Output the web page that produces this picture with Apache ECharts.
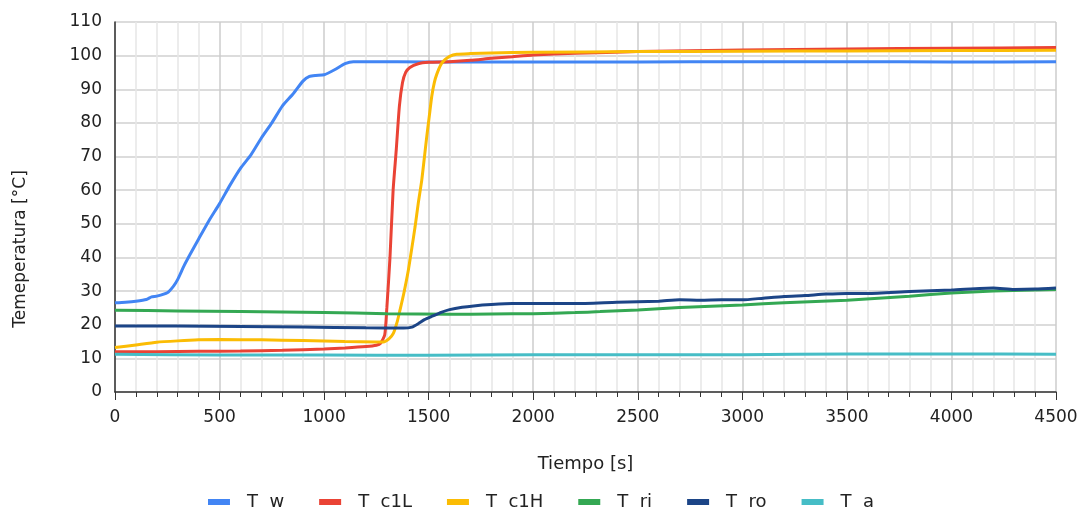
<!DOCTYPE html>
<html>
<head>
<meta charset="utf-8">
<script src="https://cdn.jsdelivr.net/npm/echarts@6/dist/echarts.min.js"></script>
<style>
  html, body { margin: 0; padding: 0; background: #fff; }
  #chart { width: 1082px; height: 508px; }
</style>
</head>
<body>
<div id="chart"></div>
<script>
  // series names (subscripts lost in the original export)
  const seriesNames = ['T  w', 'T  c1L', 'T  c1H', 'T  ri', 'T  ro', 'T  a'];
  const seriesColors = ['#4285F4', '#EA4335', '#FBBC04', '#34A853', '#1C4587', '#46BDC6'];

  // T w
  const twTime = [0, 50, 100, 150, 175, 200, 250, 280, 300, 330, 360, 400, 450, 500, 550, 600, 650, 700, 750, 800, 850, 900, 930, 960, 1000, 1050, 1100, 1140, 1200, 1500, 2000, 2500, 3000, 3500, 4000, 4500];
  const twTemp = [26.5, 26.7, 27, 27.5, 28.3, 28.5, 29.5, 31.5, 33.5, 37.5, 41, 45.5, 51, 56, 61.5, 66.5, 70.5, 75.5, 80, 85, 88.5, 92.5, 93.8, 94.1, 94.3, 95.8, 97.6, 98.2, 98.2, 98.1, 98.1, 98.1, 98.2, 98.2, 98.1, 98.2];

  // T c1L
  const tc1LTime = [0, 200, 400, 600, 800, 1000, 1100, 1200, 1250, 1270, 1290, 1300, 1315, 1330, 1345, 1360, 1375, 1390, 1410, 1450, 1500, 1600, 1700, 1800, 1900, 2000, 2200, 2500, 3000, 3500, 4000, 4500];
  const tc1LTemp = [12, 12, 12.1, 12.2, 12.4, 12.8, 13.1, 13.5, 13.9, 14.5, 17, 25, 40, 60, 72, 85, 92, 95, 96.5, 97.6, 98, 98.2, 98.6, 99.2, 99.7, 100.2, 100.7, 101.2, 101.7, 102, 102.2, 102.4];

  // T c1H
  const tc1HTime = [0, 100, 200, 300, 400, 500, 700, 900, 1100, 1250, 1283, 1310, 1331, 1350, 1363, 1380, 1403, 1420, 1435, 1450, 1467, 1480, 1491, 1503, 1515, 1527, 1539, 1560, 1578, 1600, 1634, 1700, 1800, 2000, 2500, 3000, 3500, 4000, 4500];
  const tc1HTemp = [13.2, 14, 14.8, 15.2, 15.5, 15.6, 15.5, 15.3, 15, 14.9, 14.9, 15.8, 17.4, 21, 24.4, 29, 36.3, 43, 49.1, 56, 63, 70, 76, 82, 88, 92, 94.5, 97.5, 98.8, 99.8, 100.4, 100.6, 100.8, 101, 101.2, 101.3, 101.4, 101.5, 101.6];

  // T ri
  const triTime = [0, 300, 600, 1000, 1300, 1600, 1800, 2000, 2200, 2320, 2500, 2700, 3000, 3200, 3500, 3800, 4000, 4200, 4500];
  const triTemp = [24.3, 24.1, 23.9, 23.6, 23.3, 23.1, 23.2, 23.3, 23.6, 23.9, 24.4, 25.1, 25.9, 26.5, 27.3, 28.5, 29.4, 30, 30.5];

  // T ro
  const troTime = [0, 300, 600, 900, 1200, 1380, 1420, 1450, 1480, 1520, 1560, 1600, 1660, 1715, 1800, 1900, 2000, 2200, 2400, 2600, 2700, 2800, 2900, 3000, 3100, 3200, 3300, 3400, 3500, 3600, 3800, 4000, 4200, 4300, 4400, 4500];
  const troTemp = [19.6, 19.6, 19.5, 19.3, 19.1, 19.0, 19.3, 20.3, 21.5, 22.6, 23.7, 24.5, 25.2, 25.6, 26, 26.3, 26.3, 26.3, 26.7, 27, 27.4, 27.3, 27.4, 27.4, 27.9, 28.4, 28.7, 29.1, 29.3, 29.3, 29.9, 30.3, 30.9, 30.5, 30.6, 30.9];

  // T a
  const taTime = [0, 500, 1000, 1500, 2000, 2500, 3000, 3500, 4000, 4500];
  const taTemp = [11.2, 11, 11, 10.9, 11.1, 11.1, 11.1, 11.3, 11.3, 11.2];

  const allTimes = [twTime, tc1LTime, tc1HTime, triTime, troTime, taTime];
  const allTemps = [twTemp, tc1LTemp, tc1HTemp, triTemp, troTemp, taTemp];

  const chart = echarts.init(document.getElementById('chart'));

  const series = seriesNames.map(function (name, i) {
    return {
      name: name,
      type: 'line',
      data: allTimes[i].map(function (t, j) { return [t, allTemps[i][j]]; }),
      showSymbol: false,
      smooth: 0.2,
      lineStyle: { width: 3, color: seriesColors[i] },
      itemStyle: { color: seriesColors[i] },
    };
  });

  const font = 'DejaVu Sans, sans-serif';

  chart.setOption({
    animation: false,
    textStyle: { fontFamily: font },
    grid: { left: 115, right: 26, top: 22, bottom: 116 },
    graphic: [
      {
        // y axis title, centred on the whole chart height like the original
        type: 'text',
        x: 21,
        y: 249,
        rotation: Math.PI / 2,
        style: {
          text: 'Temeperatura [°C]',
          font: '17px ' + font,
          fill: '#222',
          align: 'center',
          verticalAlign: 'middle',
        },
      },
    ],
    legend: {
      top: 488,
      left: 'center',
      icon: 'rect',
      itemWidth: 22,
      itemHeight: 6,
      itemGap: 35,
      textStyle: { fontSize: 18, color: '#222', padding: [0, 0, 0, 12] },
      data: seriesNames,
    },
    xAxis: {
      type: 'value',
      min: 0,
      max: 4500,
      interval: 500,
      name: 'Tiempo [s]',
      nameLocation: 'middle',
      nameGap: 63,
      nameTextStyle: { fontSize: 18, color: '#222' },
      axisLine: { show: true, lineStyle: { color: '#333', width: 1.5 } },
      axisTick: { show: true, length: 8, lineStyle: { color: '#333' } },
      minorTick: { show: true, splitNumber: 5, length: 5, lineStyle: { color: '#333' } },
      axisLabel: { fontSize: 17, color: '#222', margin: 17, formatter: function (v) { return String(v); } },
      splitLine: { show: true, lineStyle: { color: '#cccccc', width: 1.5 } },
      minorSplitLine: { show: true, lineStyle: { color: '#e6e6e6', width: 1.5 } },
    },
    yAxis: {
      type: 'value',
      min: 0,
      max: 110,
      interval: 10,
      axisLine: { show: true, lineStyle: { color: '#333', width: 1.5 } },
      axisTick: { show: false },
      axisLabel: { fontSize: 17, color: '#222', margin: 13 },
      splitLine: { show: true, lineStyle: { color: '#d0d0d0', width: 1.5 } },
    },
    series: series,
  });
</script>
</body>
</html>
